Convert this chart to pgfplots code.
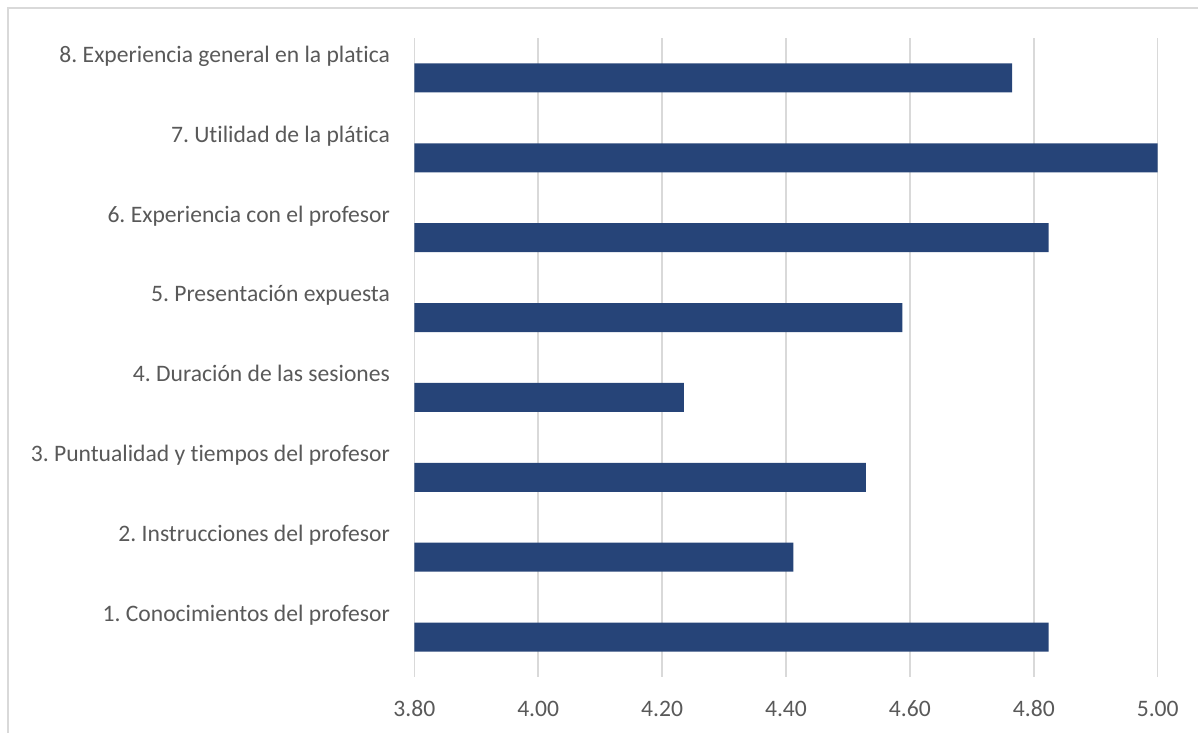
\documentclass[border=0pt]{standalone}
\usepackage{fontspec}
\setmainfont{Carlito}[Ligatures=NoCommon]
\usepackage{pgfplots}
\pgfplotsset{compat=1.18}
\definecolor{barblue}{HTML}{264478}
\definecolor{gridgray}{HTML}{D9D9D9}
\definecolor{txtgray}{HTML}{595959}
\begin{document}
\frenchspacing
\begin{tikzpicture}
\useasboundingbox (0bp,0bp) rectangle (599bp,366.5bp);
% outer chart frame (only top and left show)
\draw[gridgray, line width=1bp] (4bp,0bp) -- (4bp,362.5bp) -- (599bp,362.5bp);
\begin{axis}[
    at={(207.15bp,28bp)}, anchor=south west,
    scale only axis, width=371.7bp, height=319.5bp,
    xbar, bar width=14.5bp,
    xmin=3.8, xmax=5.0, ymin=0.5, ymax=8.5,
    xtick={3.8,4,4.2,4.4,4.6,4.8,5},
    ytick={1.195,2.195,3.195,4.195,5.195,6.195,7.195,8.195},
    yticklabels={1. Conocimientos del profesor,
                 2. Instrucciones del profesor,
                 3. Puntualidad y tiempos del profesor,
                 4. Duración de las sesiones,
                 5. Presentación expuesta,
                 6. Experiencia con el profesor,
                 7. Utilidad de la plática\ ,
                 8. Experiencia general en la platica},
    xmajorgrids, grid style={gridgray, line width=0.75bp},
    axis x line*=bottom, axis y line*=left, axis line style={draw=none},
    major tick length=0pt,
    tick label style={font=\fontsize{11.8bp}{14bp}\selectfont, text=txtgray},
    xticklabel style={anchor=base, yshift=-20bp, inner sep=0pt},
    yticklabel style={anchor=base east, inner sep=0pt, xshift=-12bp},
    /pgf/number format/.cd, fixed, fixed zerofill, precision=2, assume math mode=true,
]
\addplot[fill=barblue, draw=none] coordinates {
    (4.824,1) (4.412,2) (4.529,3) (4.235,4)
    (4.588,5) (4.824,6) (5.000,7) (4.765,8)};
\end{axis}
\end{tikzpicture}
\end{document}
